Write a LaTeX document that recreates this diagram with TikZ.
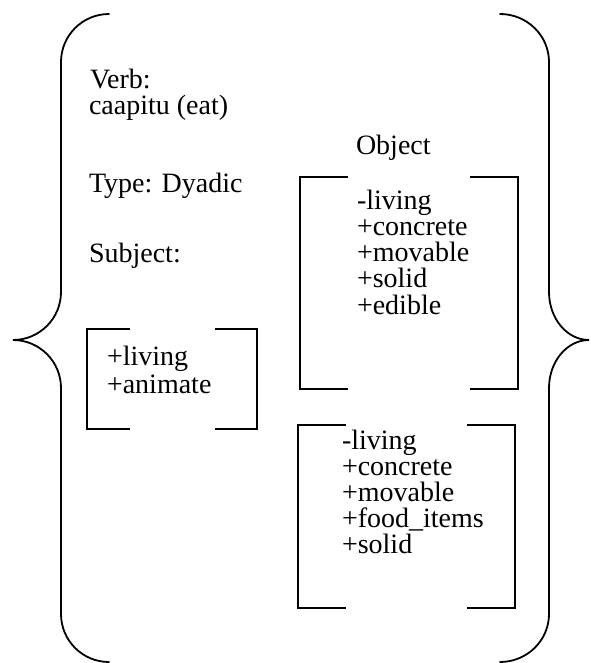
\documentclass[tikz,border=0pt]{standalone}
\usepackage{fontspec}
\setmainfont{Liberation Serif}
\begin{document}
\begin{tikzpicture}[x=1pt,y=-1pt,
  txt/.style={anchor=base west,inner sep=0pt,outer sep=0pt,text height=19.5pt,text depth=4.5pt,font=\fontsize{28}{26}\selectfont},
  brk/.style={draw=black,line width=1.8pt,line cap=butt,line join=miter},
  brace/.style={draw=black,line width=1.8pt,line cap=round}]
\useasboundingbox (0,0) rectangle (590,663);
% left brace
\draw[brace] (109,14) .. controls (82.5,14) and (61,35.5) .. (61,62)
  -- (61,292) .. controls (61,318.5) and (39.5,340) .. (13,340)
  .. controls (39.5,340) and (61,361.5) .. (61,388)
  -- (61,614) .. controls (61,640.5) and (82.5,662) .. (109,662);
% right brace
\draw[brace] (500,14) .. controls (527,14) and (549,35.5) .. (549,62)
  -- (549,292) .. controls (549,318.5) and (567,340) .. (589,340)
  .. controls (567,340) and (549,361.5) .. (549,388)
  -- (549,614) .. controls (549,640.5) and (527,662) .. (500,662);
% texts
\node[txt] (verb) at (90,89) {Verb:};
\node[txt] (caap) at (89,114.5) {caapitu (eat)};
\node[txt] (type) at (89,192) {Type: Dyadic};
\node[txt] (subj) at (89,262) {Subject:};
\node[txt] (obj) at (356,154) {Object};
\node[txt] (sa1) at (107,365) {+living};
\node[txt] (sa2) at (107,393) {+animate};
\foreach \t [count=\i] in {-living,+concrete,+movable,+solid,+edible}
  \node[txt] (oa\i) at (357,{209+26.3*(\i-1)}) {\t};
\foreach \t [count=\i] in {-living,+concrete,+movable,+food\_items,+solid}
  \node[txt] (ob\i) at (342,{449+26*(\i-1)}) {\t};
% subject bracket
\draw[brk] (130,329) -- (87,329) -- (87,429) -- (130,429);
\draw[brk] (215,329) -- (257,329) -- (257,429) -- (215,429);
% object bracket 1
\draw[brk] (348,177) -- (300,177) -- (300,389) -- (348,389);
\draw[brk] (470,177) -- (518,177) -- (518,389) -- (470,389);
% object bracket 2
\draw[brk] (346,425) -- (298,425) -- (298,608) -- (346,608);
\draw[brk] (467,425) -- (515,425) -- (515,608) -- (467,608);
\end{tikzpicture}
\end{document}
